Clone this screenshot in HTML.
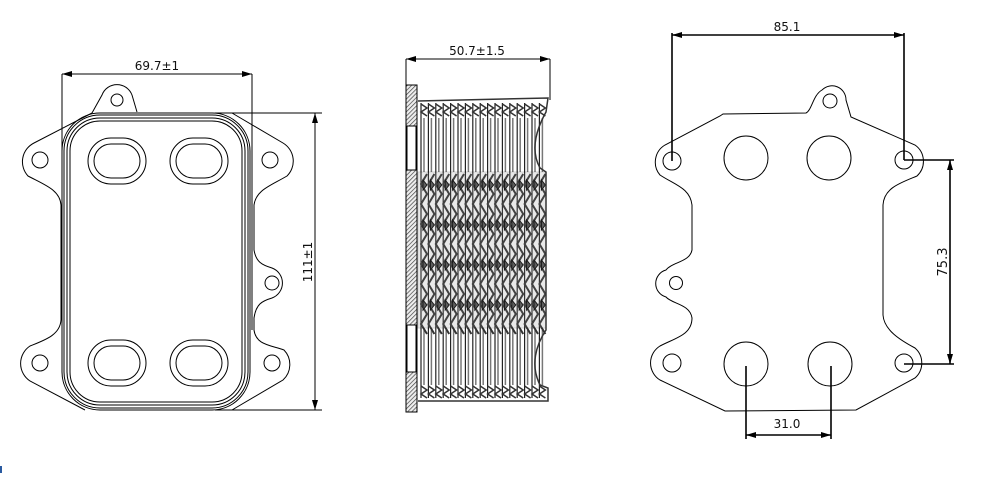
<!DOCTYPE html>
<html><head><meta charset="utf-8"><style>
html,body{margin:0;padding:0;background:#fff;width:1000px;height:493px;overflow:hidden}
svg{display:block}
text{font-family:"DejaVu Sans","Liberation Sans",sans-serif;font-size:12px;fill:#111}
</style></head><body>
<svg id="s" width="1000" height="493" viewBox="0 0 1000 493" xmlns="http://www.w3.org/2000/svg">
<defs>
<marker id="a" viewBox="0 0 10 6" refX="10" refY="3" markerWidth="13" markerHeight="6" orient="auto-start-reverse" markerUnits="userSpaceOnUse"><path d="M0,0L10,3L0,6z" fill="#000"/></marker>
<pattern id="h" width="3" height="3" patternUnits="userSpaceOnUse" patternTransform="rotate(45)"><rect width="3" height="3" fill="#eee"/><line x1="0" y1="0" x2="0" y2="3" stroke="#444" stroke-width="1.4"/></pattern>
</defs>
<g fill="none" stroke="#000" stroke-width="1">
<path d="M92,113 L102,95 A16,16 0 0 1 132,95 L137,112 M232,113 L283,143 A21,21 0 0 1 287,176 C270,186 256,190 254,205 L254,250 C256,262 262,265 272,268 A16,16 0 0 1 272,298 C262,301 256,304 254,318 L254,330 C256,345 270,345 284,350 A21,21 0 0 1 283,380 L232,410 M85,410 L30,381 A21,21 0 0 1 30,346 C45,340 60,335 61,320 L61,205 C60,190 45,185 28,176 A21,21 0 0 1 34,143 L92,113"/>
<circle cx="117" cy="100" r="6"/><circle cx="40" cy="160" r="8"/><circle cx="270" cy="160" r="8"/><circle cx="272" cy="283" r="7"/><circle cx="40" cy="363" r="8"/><circle cx="272" cy="363" r="8"/>
<rect x="62" y="113" width="188" height="297" rx="38"/>
<rect x="64" y="115" width="184" height="293" rx="36"/>
<rect x="67" y="118" width="178" height="287" rx="33"/>
<rect x="70" y="121" width="172" height="281" rx="30"/>
<rect x="88" y="138" width="58" height="46" rx="23"/><rect x="94" y="144" width="46" height="34" rx="17"/>
<rect x="170" y="138" width="58" height="46" rx="23"/><rect x="176" y="144" width="46" height="34" rx="17"/>
<rect x="88" y="340" width="58" height="46" rx="23"/><rect x="94" y="346" width="46" height="34" rx="17"/>
<rect x="170" y="340" width="58" height="46" rx="23"/><rect x="176" y="346" width="46" height="34" rx="17"/>
<line x1="62" y1="74" x2="62" y2="165"/><line x1="252" y1="74" x2="252" y2="330"/>
<line x1="62" y1="74" x2="252" y2="74" marker-start="url(#a)" marker-end="url(#a)"/>
<line x1="215" y1="113" x2="322" y2="113"/><line x1="215" y1="410" x2="322" y2="410"/>
<line x1="315" y1="113" x2="315" y2="410" marker-start="url(#a)" marker-end="url(#a)"/>
<line x1="406" y1="59" x2="406" y2="86"/><line x1="550" y1="59" x2="550" y2="100"/>
<line x1="406" y1="59" x2="550" y2="59" marker-start="url(#a)" marker-end="url(#a)"/>
<rect x="406" y="85" width="11" height="327" fill="url(#h)"/>
<rect x="407" y="126" width="9" height="44" fill="#fff"/>
<rect x="407" y="325" width="9" height="47" fill="#fff"/>
<g id="fins"></g>
<path d="M418,101 L548,98 L546,112 C536,130 530,150 540,168 L546,172 L546,330 C536,345 530,365 540,385 L548,388 L548,401 L418,401" stroke="#333" stroke-width="1.5"/>
<path d="M723,114 L806,113 C812,110 813,95 822,90 A14,14 0 0 1 846,100 L851,117 L915,145 A20,20 0 0 1 917,176 C900,183 884,188 883,205 L883,315 C884,330 900,340 915,348 A20,20 0 0 1 915,378 L856,410 L725,411 L660,380 A20,20 0 0 1 660,346 C675,338 692,335 692,318 C690,304 672,304 666,297 A14,14 0 0 1 666,270 C672,262 690,262 692,250 L692,205 C690,188 675,185 660,175 A20,20 0 0 1 665,145 L720,116 Z"/>
<circle cx="830" cy="101" r="7"/>
<circle cx="672" cy="161" r="9"/><circle cx="904" cy="160" r="9"/>
<circle cx="676" cy="283" r="6.5"/>
<circle cx="672" cy="363" r="9"/><circle cx="904" cy="363" r="9"/>
<circle cx="746" cy="158" r="22"/><circle cx="829" cy="158" r="22"/>
<circle cx="746" cy="364" r="22"/><circle cx="830" cy="364" r="22"/>
<g stroke-width="1.6">
<line x1="672" y1="161" x2="672" y2="33"/><line x1="904" y1="160" x2="904" y2="33"/>
<line x1="672" y1="35" x2="904" y2="35" marker-start="url(#a)" marker-end="url(#a)"/>
<line x1="904" y1="160" x2="954" y2="160"/><line x1="904" y1="364" x2="954" y2="364"/>
<line x1="950" y1="160" x2="950" y2="364" marker-start="url(#a)" marker-end="url(#a)"/>
<line x1="746" y1="366" x2="746" y2="439"/><line x1="831" y1="366" x2="831" y2="439"/>
<line x1="746" y1="435" x2="831" y2="435" marker-start="url(#a)" marker-end="url(#a)"/>
</g>
</g>
<text x="157" y="70" text-anchor="middle">69.7±1</text>
<text transform="translate(312,262) rotate(-90)" text-anchor="middle">111±1</text>
<text x="477" y="55" text-anchor="middle">50.7±1.5</text>
<text x="787" y="31" text-anchor="middle">85.1</text>
<text transform="translate(947,262) rotate(-90)" text-anchor="middle" style="font-size:13px">75.3</text>
<text x="787" y="428" text-anchor="middle">31.0</text>
<rect x="0" y="466" width="2" height="7" fill="#2a5aa0"/>
</svg>
<script>
var g=document.getElementById('fins'),h='';
for(var i=0;i<17;i++){var x=421+i*7.4;
h+='<line x1="'+x+'" y1="103" x2="'+x+'" y2="398" stroke="#222" stroke-width="1.2"/>';
h+='<line x1="'+(x+3)+'" y1="118" x2="'+(x+3)+'" y2="172" stroke="#777" stroke-width="1.5"/>';
h+='<line x1="'+(x+3)+'" y1="330" x2="'+(x+3)+'" y2="385" stroke="#777" stroke-width="1.5"/>';
h+='<path d="M'+x+',104 l6,4 l-6,4 l6,4" stroke="#333" stroke-width="1.5" fill="none"/>';
h+='<path d="M'+x+',386 l6,4 l-6,4 l6,4" stroke="#333" stroke-width="1.5" fill="none"/>';
var p='M'+(x+6)+',174';for(var y=174;y<325;y+=20){p+=' L'+(x)+','+(y+10)+' L'+(x+6)+','+(y+20);}
h+='<path d="'+p+'" stroke="#333" stroke-width="2" fill="none"/>';
h+='<path d="M'+(x+2)+',180 l4,5 l-4,5 z M'+(x+2)+',220 l4,5 l-4,5 z M'+(x+2)+',260 l4,5 l-4,5 z M'+(x+2)+',300 l4,5 l-4,5 z" fill="#555"/>';}
h+='<rect x="418" y="172" width="128" height="156" fill="#888" opacity="0.18"/>';
g.innerHTML=h;
</script>
</body></html>
